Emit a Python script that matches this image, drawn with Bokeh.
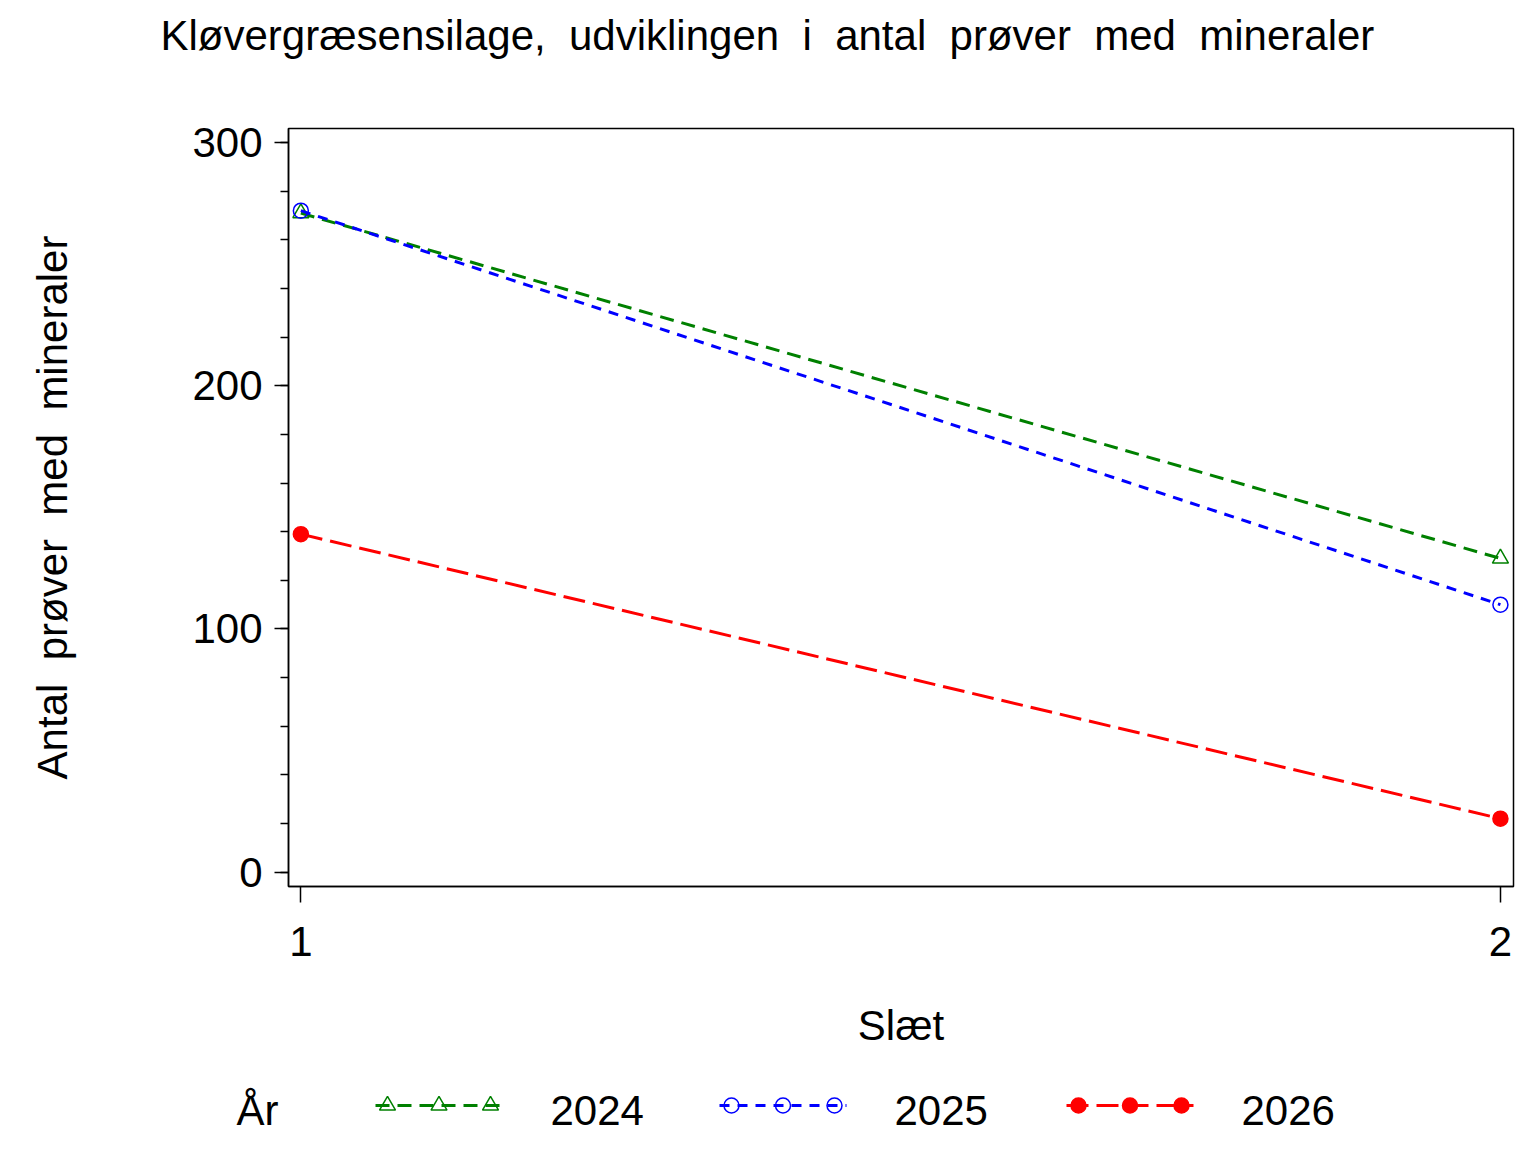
from bokeh.plotting import figure
from bokeh.models import Range1d, FixedTicker, SingleIntervalTicker
from bokeh.core.properties import value
from bokeh.embed import file_html
from bokeh.resources import INLINE

# ---- data ----
slaet = [1, 2]
years = ["2024", "2025", "2026"]
v2024 = [271, 129]
v2025 = [272, 110]
v2026 = [139, 22]
x_ticks = [1, 2]
SP = " \u00a0"  # double word gap as in the original
title_text = SP.join(["Kløvergræsensilage,", "udviklingen", "i", "antal", "prøver", "med", "mineraler"])
x_label = "Slæt"
y_label = SP.join(["Antal", "prøver", "med", "mineraler"])
legend_title = "År"

FONT = "Liberation Sans"
FS = "42px"
W = 1528

colors = ["#008000", "#0000FF", "#FF0000"]
dashes = ["14 8", "10 8", "22 8"]
markers = ["triangle", "circle", "circle"]
fills = [None, None, "#FF0000"]
sizes = [16, 15, 15]
series = [v2024, v2025, v2026]


def strip(height):
    f = figure(width=W, height=height, x_range=Range1d(0, W), y_range=Range1d(0, height),
               output_backend="svg", toolbar_location=None,
               x_axis_location=None, y_axis_location=None,
               min_border=0, outline_line_color=None)
    f.xgrid.visible = False
    f.ygrid.visible = False
    return f


# ---- title strip ----
TH = 120
top = strip(TH)
top.text(x=[160], y=[TH - 35], text=[title_text], text_font=value(FONT),
         text_font_size=FS, text_baseline="alphabetic", text_align="left",
         text_color="black")

# ---- main plot ----
p = figure(width=W, height=940,
           x_range=Range1d(0.9897, 2.0109), y_range=Range1d(-5.9, 305.8),
           output_backend="svg", toolbar_location=None,
           min_border_left=288, min_border_right=15,
           min_border_top=8, min_border_bottom=174)
p.xgrid.visible = False
p.ygrid.visible = False
p.outline_line_color = "black"
p.outline_line_width = 1.5

p.xaxis.ticker = FixedTicker(ticks=x_ticks)
p.xaxis.major_tick_out = 16
p.xaxis.major_tick_in = 0
p.xaxis.minor_tick_out = 0
p.xaxis.major_label_standoff = 24
p.xaxis.axis_label = x_label
p.xaxis.axis_label_standoff = 43

p.yaxis.ticker = SingleIntervalTicker(interval=100, num_minor_ticks=5)
p.yaxis.major_tick_out = 14
p.yaxis.major_tick_in = 0
p.yaxis.minor_tick_out = 8
p.yaxis.minor_tick_in = 0
p.yaxis.major_label_standoff = 12
p.yaxis.axis_label = y_label
p.yaxis.axis_label_standoff = 113

for ax in (p.xaxis, p.yaxis):
    ax.axis_line_color = "black"
    ax.axis_line_width = 1.5
    ax.major_tick_line_width = 1.5
    ax.minor_tick_line_width = 1.5
    ax.major_label_text_font = FONT
    ax.major_label_text_font_size = FS
    ax.major_label_text_color = "black"
    ax.axis_label_text_font = FONT
    ax.axis_label_text_font_size = FS
    ax.axis_label_text_font_style = "normal"
    ax.axis_label_text_color = "black"

for vals, c, d, m, f, s in zip(series, colors, dashes, markers, fills, sizes):
    p.line(slaet, vals, line_color=c, line_width=3, line_dash=d)
    p.scatter(slaet, vals, marker=m, size=s,
              line_color=c, line_width=1.5, fill_color=f)

# ---- legend strip ----
LH = 92
leg = strip(LH)
TY = LH - 50
leg.text(x=[236], y=[TY], text=[legend_title], text_font=value(FONT),
         text_font_size=FS, text_baseline="alphabetic", text_align="left",
         text_color="black")
group_x = [375, 719, 1066]
line_y = LH - 45
for gx, yr, c, d, m, f, s in zip(group_x, years, colors, dashes, markers, fills, sizes):
    leg.line([gx, gx + 127], [line_y, line_y], line_color=c, line_width=3, line_dash=d)
    mx = [gx + 12, gx + 63.5, gx + 115]
    leg.scatter(mx, [line_y] * 3, marker=m, size=s,
                line_color=c, line_width=1.5, fill_color=f)
    leg.text(x=[gx + 175], y=[TY], text=[yr], text_font=value(FONT),
             text_font_size=FS, text_baseline="alphabetic", text_align="left",
             text_color="black")

open("out.html", "w").write(file_html([top, p, leg], INLINE))
